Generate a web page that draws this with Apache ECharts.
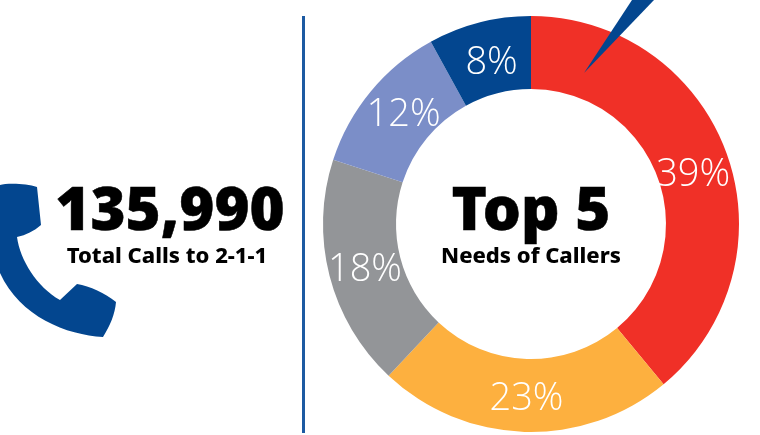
<!DOCTYPE html>
<html>
<head>
<meta charset="utf-8">
<style>html,body{margin:0;padding:0;background:#fff}#c{width:760px;height:435px}</style>
<script src="https://cdn.jsdelivr.net/npm/echarts@6/dist/echarts.min.js"></script>
</head>
<body>
<div id="c"></div>
<script>
const needNames = ['Need 1', 'Need 2', 'Need 3', 'Need 4', 'Need 5'];
const needShares = [39, 23, 18, 12, 8];
const needColors = ['#f03027', '#fdb03f', '#939598', '#7b8ec8', '#03468f'];
const totalCalls = '135,990';
const totalCaption = 'Total Calls to 2-1-1';
const centerTitle = 'Top 5';
const centerCaption = 'Needs of Callers';

const NAVY = '#03468f';
const HEAVY = '"Noto Sans","Open Sans",sans-serif';
// small nudges that settle each percentage inside its slice
const labelNudges = [[-2, 10], [1, 1], [3, 3], [7, 2], [4, 8]];

// telephone handset outline, registered as a reusable shape
echarts.graphic.registerShape('handset', echarts.graphic.extendPath(
  'M0 185 C6 183 26 183 37 187 L41 225 C34 231 26 235 17 237 C20 260 37 287 60 300 L77 284 C90 286 105 293 116 302 C115 314 110 326 103 337 C67 335 20 317 0 273 Z'
));

const heavyText = (x, y, text, font, outline) => ({
  type: 'text', x, y, z: 10,
  style: { text, fill: '#000', stroke: '#000', lineWidth: outline, font, textAlign: 'center', textVerticalAlign: 'middle' }
});

const chart = echarts.init(document.getElementById('c'), null, { renderer: 'canvas' });
chart.setOption({
  animation: false,
  backgroundColor: '#fff',
  series: [{
    type: 'pie',
    center: [531, 224],
    radius: [135, 208],
    startAngle: 90,
    clockwise: true,
    silent: true,
    data: needNames.map((name, i) => ({
      name, value: needShares[i], itemStyle: { color: needColors[i] }
    })),
    label: {
      position: 'inside',
      formatter: '{c}%',
      color: '#fff',
      fontFamily: '"Open Sans"',
      fontWeight: 300,
      fontSize: 38,
      letterSpacing: -5
    },
    labelLine: { show: false },
    labelLayout: (params) => ({ dx: labelNudges[params.dataIndex][0], dy: labelNudges[params.dataIndex][1] })
  }],
  graphic: [
    // divider between the total and the ring
    { type: 'rect', z: 10, shape: { x: 302, y: 16, width: 3, height: 417 }, style: { fill: '#1c5aa2' } },
    // pointer running off the top edge into the red slice
    { type: 'polygon', z: 10, shape: { points: [[584, 73], [632, 0], [654, 0]] }, style: { fill: NAVY } },
    { type: 'handset', z: 10, style: { fill: NAVY } },
    heavyText(170, 213, totalCalls, '900 60px ' + HEAVY, 0.5),
    heavyText(167, 257, totalCaption, '800 22px ' + HEAVY, 0),
    heavyText(531, 213, centerTitle, '900 60px ' + HEAVY, 0.5),
    heavyText(531, 257, centerCaption, '800 22px ' + HEAVY, 0)
  ]
});
</script>
</body>
</html>
